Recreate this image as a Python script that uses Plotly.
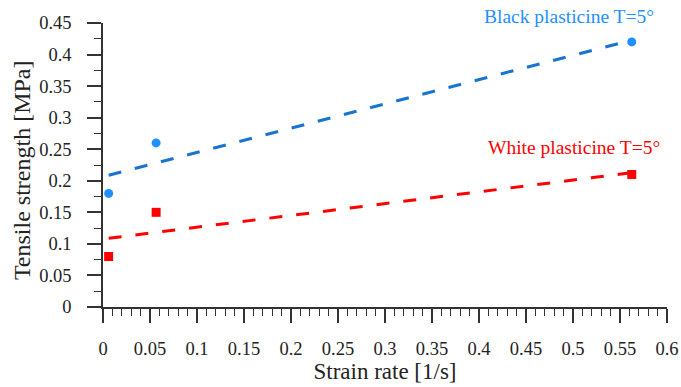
import numpy as np
import plotly.graph_objects as go

# Data
strain_rate = [0.006, 0.0565, 0.5625]
black_strength = [0.18, 0.26, 0.42]
white_strength = [0.08, 0.15, 0.21]

series_names = ["Black plasticine T=5°", "White plasticine T=5°"]
x_ticks = [0, 0.05, 0.1, 0.15, 0.2, 0.25, 0.3, 0.35, 0.4, 0.45, 0.5, 0.55, 0.6]
y_ticks = [0, 0.05, 0.1, 0.15, 0.2, 0.25, 0.3, 0.35, 0.4, 0.45]
x_title = "Strain rate [1/s]"
y_title = "Tensile strength [MPa]"

FONT = "Liberation Serif, Times New Roman, serif"
BLUE = "#1E90FF"
BLUE_LINE = "#1874CD"
RED = "#FF0000"
AX = "#333333"


def fit_line(x, y):
    k, b = np.polyfit(x, y, 1)
    xs = np.array([min(x), max(x)])
    return xs, k * xs + b


fig = go.Figure()

bx, by = fit_line(strain_rate, black_strength)
wx, wy = fit_line(strain_rate, white_strength)

fig.add_trace(go.Scatter(x=bx, y=by, mode="lines",
                         line=dict(color=BLUE_LINE, width=3, dash="13px,14px"),
                         showlegend=False, hoverinfo="skip"))
fig.add_trace(go.Scatter(x=wx, y=wy, mode="lines",
                         line=dict(color=RED, width=3, dash="13px,14px"),
                         showlegend=False, hoverinfo="skip"))
fig.add_trace(go.Scatter(x=strain_rate, y=black_strength, mode="markers",
                         marker=dict(symbol="circle", size=9, color=BLUE),
                         name=series_names[0], showlegend=False, cliponaxis=False))
fig.add_trace(go.Scatter(x=strain_rate, y=white_strength, mode="markers",
                         marker=dict(symbol="square", size=9, color=RED),
                         name=series_names[1], showlegend=False, cliponaxis=False))

fig.add_annotation(x=0.4957, y=1.0246, xref="x", yref="paper", text=series_names[0],
                   showarrow=False, font=dict(family=FONT, size=19.5, color=BLUE),
                   xanchor="center", yanchor="middle")
fig.add_annotation(x=0.5007, y=0.56, xref="x", yref="paper", text=series_names[1],
                   showarrow=False, font=dict(family=FONT, size=19.5, color=RED),
                   xanchor="center", yanchor="middle")
# y-axis title
fig.add_annotation(x=-0.1436, y=0.482, xref="paper", yref="paper", text=y_title,
                   textangle=-90, showarrow=False,
                   font=dict(family=FONT, size=24, color="#222"),
                   xanchor="center", yanchor="middle")

axis_common = dict(
    showgrid=False, zeroline=False, showline=True, linecolor=AX, linewidth=1.5,
    ticks="outside", ticklen=14, tickwidth=1.5, tickcolor=AX, automargin=False,
    tickfont=dict(family=FONT, size=18.5, color="#222"),
)

fig.update_xaxes(range=[0, 0.6], tickvals=x_ticks, ticktext=[f"{v:g}" for v in x_ticks],
                 minor=dict(ticks="outside", ticklen=7, tickwidth=1.2, tickcolor=AX, dtick=0.01, tick0=0),
                 title=dict(text=x_title, font=dict(family=FONT, size=23, color="#222"), standoff=2),
                 ticklabelstandoff=10,
                 **axis_common)
fig.update_yaxes(range=[0, 0.45], tickvals=y_ticks, ticktext=[f"{v:g}" for v in y_ticks],
                 minor=dict(ticks="outside", ticklen=7, tickwidth=1.2, tickcolor=AX, dtick=0.025, tick0=0),
                 ticklabelstandoff=12,
                 **axis_common)

fig.update_layout(width=681, height=387, margin=dict(l=103, r=14, t=23, b=80),
                  plot_bgcolor="white", paper_bgcolor="white",
                  font=dict(family=FONT))

fig.write_html("out.html", config={"displayModeBar": False},
               post_script="document.body.style.margin='0';document.body.style.overflow='hidden';")
